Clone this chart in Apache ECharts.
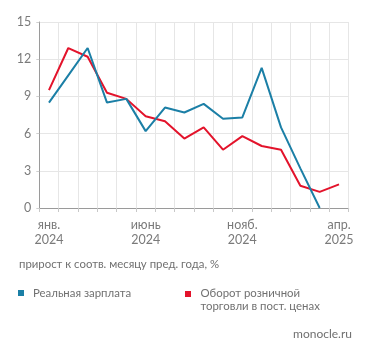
<!DOCTYPE html>
<html><head><meta charset="utf-8">
<script src="https://cdn.jsdelivr.net/npm/echarts@6/dist/echarts.min.js"></script>
<style>html,body{margin:0;padding:0;background:#fff}#c{width:371px;height:357px}</style>
</head><body><div id="c"></div>
<script>
const categories = ["янв.\n2024","февр.\n2024","март\n2024","апр.\n2024","май\n2024","июнь\n2024","июль\n2024","авг.\n2024","сент.\n2024","окт.\n2024","нояб.\n2024","дек.\n2024","янв.\n2025","февр.\n2025","март\n2025","апр.\n2025"];
const wageName = "Реальная зарплата";
const retailName = "Оборот розничной\nторговли в пост. ценах";
const wage = [8.5, 10.7, 12.9, 8.5, 8.8, 6.2, 8.1, 7.7, 8.4, 7.2, 7.3, 11.3, 6.5, 3.2, 0.0, null];
const retail = [9.5, 12.9, 12.2, 9.3, 8.8, 7.4, 7.0, 5.6, 6.5, 4.7, 5.8, 5.0, 4.7, 1.8, 1.3, 1.9];
const yTicks = [0, 3, 6, 9, 12, 15];
const subtitle = "прирост к соотв. месяцу пред. года, %";
const source = "monocle.ru";

const FONT = "Lato, 'Open Sans', sans-serif";
const BLUE = '#1b7fa6', RED = '#e3132b', TXT = '#707070';
const chart = echarts.init(document.getElementById('c'), null, {renderer: 'canvas'});
chart.setOption({
  animation: false,
  textStyle: {fontFamily: FONT},
  grid: {left: 39.3, right: 22.3, top: 22, bottom: 149, containLabel: false},
  xAxis: {
    type: 'category', data: categories, boundaryGap: true,
    axisLine: {lineStyle: {color: '#9a9a9a', width: 1}},
    axisTick: {show: true, interval: 0, length: 4, lineStyle: {color: '#c8c8c8'}},
    splitLine: {show: true, interval: 0, lineStyle: {color: '#e6e6e6', width: 1}},
    axisLabel: {
      interval: function (i) { return i % 5 === 0; },
      color: '#7a7a7a', fontSize: 12.5, lineHeight: 15, margin: 9, fontFamily: FONT
    }
  },
  yAxis: {
    type: 'value', min: yTicks[0], max: yTicks[yTicks.length - 1], interval: 3,
    axisLine: {show: true, lineStyle: {color: '#9a9a9a', width: 1}},
    axisTick: {show: true, length: 3, lineStyle: {color: '#d0d0d0'}},
    splitLine: {show: true, lineStyle: {color: '#e6e6e6', width: 1}},
    axisLabel: {color: '#7a7a7a', fontSize: 12.5, margin: 8, fontFamily: FONT}
  },
  legend: {show: false},
  graphic: [
    {type: 'text', left: 19, top: 259, style: {text: subtitle, fill: TXT, font: '11.4px ' + FONT}},
    {type: 'rect', shape: {x: 18, y: 290, width: 6, height: 6}, style: {fill: BLUE}},
    {type: 'text', x: 33, y: 293, style: {text: wageName, fill: TXT, font: '11.4px ' + FONT, verticalAlign: 'middle'}},
    {type: 'rect', shape: {x: 185, y: 291, width: 6, height: 6}, style: {fill: RED}},
    {type: 'text', x: 200.5, y: 287, style: {text: retailName, fill: TXT, font: '11.4px ' + FONT, lineHeight: 13, verticalAlign: 'top'}},
    {type: 'text', right: 19, top: 328, style: {text: source, fill: TXT, font: '12px ' + FONT}}
  ],
  series: [
    {name: wageName, type: 'line', data: wage, symbol: 'none', color: BLUE,
     lineStyle: {width: 2, color: BLUE}, z: 3},
    {name: retailName, type: 'line', data: retail, symbol: 'none', color: RED,
     lineStyle: {width: 2, color: RED}, z: 2}
  ]
});
</script></body></html>
